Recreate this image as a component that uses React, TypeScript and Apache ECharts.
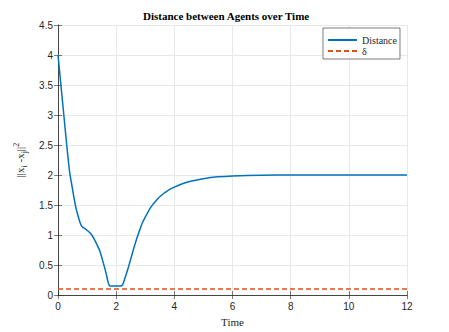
import React, { useEffect, useRef } from "react";
import * as echarts from "echarts";

const titleText = "Distance between Agents over Time";
const xName = "Time";
const seriesNames = ["Distance", "δ"];

const distanceTime = [0, 0.1, 0.2, 0.3, 0.4, 0.47, 0.55, 0.62, 0.7, 0.78, 0.85, 0.95, 1.05, 1.15, 1.25, 1.35, 1.45, 1.55, 1.65, 1.72, 1.77, 1.85, 2.0, 2.15, 2.22, 2.3, 2.4, 2.5, 2.6, 2.7, 2.8, 2.9, 3.0, 3.2, 3.4, 3.6, 3.8, 4.0, 4.3, 4.6, 5.0, 5.5, 6.0, 7.0, 8.0, 12.0];
const distanceValue = [4.0, 3.5, 3.0, 2.5, 2.05, 1.85, 1.62, 1.45, 1.3, 1.18, 1.13, 1.1, 1.06, 1.01, 0.93, 0.83, 0.72, 0.55, 0.37, 0.22, 0.155, 0.15, 0.15, 0.15, 0.17, 0.28, 0.43, 0.6, 0.77, 0.93, 1.07, 1.2, 1.3, 1.47, 1.59, 1.68, 1.75, 1.8, 1.86, 1.9, 1.94, 1.97, 1.985, 1.997, 2.0, 2.0];

const deltaTime = [0, 12];
const deltaValue = [0.1, 0.1];

const xMin = 0, xMax = 12, xStep = 2;
const yMin = 0, yMax = 4.5, yStep = 0.5;

export default function App() {
  const ref = useRef<HTMLDivElement>(null);
  useEffect(() => {
    if (!ref.current) return;
    const chart = echarts.init(ref.current, null, { renderer: "svg" });
    const axisColor = "#262626";
    const sans = "'Liberation Sans', Arial, sans-serif";
    const serif = "'Liberation Serif', 'Times New Roman', serif";
    const axisLine = { show: true, lineStyle: { color: axisColor, width: 0.6 } };
    const tick = { show: true, inside: true, length: 4, lineStyle: { color: axisColor, width: 0.6 } };
    chart.setOption({
      animation: false,
      backgroundColor: "#ffffff",
      title: {
        text: titleText,
        left: 143,
        top: 10,
        padding: 0,
        textStyle: { fontFamily: serif, fontWeight: "bold", fontSize: 11, color: "#000" },
      },
      legend: {
        orient: "vertical",
        left: 323,
        top: 28,
        padding: [7, 3, 3, 4],
        itemWidth: 29,
        itemHeight: 10,
        itemGap: 1,
        borderColor: axisColor,
        borderWidth: 0.6,
        backgroundColor: "#fff",
        borderRadius: 0,
        itemStyle: { opacity: 0 },
        data: seriesNames,
        textStyle: { fontFamily: serif, fontSize: 10, color: axisColor, lineHeight: 10 },
      },
      grid: { left: 58, right: 42, top: 25, bottom: 32.5, containLabel: false },
      xAxis: [
        {
          type: "value",
          min: xMin,
          max: xMax,
          interval: xStep,
          name: xName,
          nameLocation: "middle",
          nameGap: 20,
          nameTextStyle: { fontFamily: serif, fontSize: 11, color: axisColor },
          axisLine,
          axisTick: tick,
          axisLabel: { fontFamily: sans, fontSize: 10, color: axisColor, margin: 6 },
          splitLine: { show: true, lineStyle: { color: "#e8e8e8", width: 1 } },
        },
        {
          type: "value",
          position: "top",
          min: xMin,
          max: xMax,
          interval: xStep,
          axisLine,
          axisTick: tick,
          axisLabel: { show: false },
          splitLine: { show: false },
        },
      ],
      yAxis: [
        {
          type: "value",
          min: yMin,
          max: yMax,
          interval: yStep,
          name: "{n|||x}{s|i}{n| -x}{s|j}{n|||}{p|2}",
          nameLocation: "middle",
          nameRotate: 90,
          nameGap: 28,
          nameTextStyle: {
            fontFamily: serif,
            fontSize: 11,
            color: axisColor,
            rich: {
              n: { fontFamily: serif, fontSize: 11, color: axisColor, lineHeight: 16, verticalAlign: "middle" },
              s: { fontFamily: serif, fontSize: 8, color: axisColor, lineHeight: 8, verticalAlign: "bottom" },
              p: { fontFamily: serif, fontSize: 8, color: axisColor, lineHeight: 8, verticalAlign: "top" },
            },
          },
          axisLine,
          axisTick: tick,
          axisLabel: { fontFamily: sans, fontSize: 10, color: axisColor, margin: 5 },
          splitLine: { show: true, lineStyle: { color: "#e8e8e8", width: 1 } },
        },
        {
          type: "value",
          position: "right",
          min: yMin,
          max: yMax,
          interval: yStep,
          axisLine,
          axisTick: tick,
          axisLabel: { show: false },
          splitLine: { show: false },
        },
      ],
      series: [
        {
          name: seriesNames[0],
          type: "line",
          data: distanceTime.map((t, i) => [t, distanceValue[i]]),
          symbol: "none",
          smooth: 0.2,
          lineStyle: { color: "#0072BD", width: 1.5 },
          itemStyle: { color: "#0072BD" },
        },
        {
          name: seriesNames[1],
          type: "line",
          data: deltaTime.map((t, i) => [t, deltaValue[i]]),
          symbol: "none",
          lineStyle: { color: "#D95319", width: 1.5, type: [5, 3] },
          itemStyle: { color: "#D95319" },
        },
      ],
    });
    return () => chart.dispose();
  }, []);
  return <div ref={ref} style={{ width: 449, height: 332, position: "absolute", left: 0, top: 0 }} />;
}
